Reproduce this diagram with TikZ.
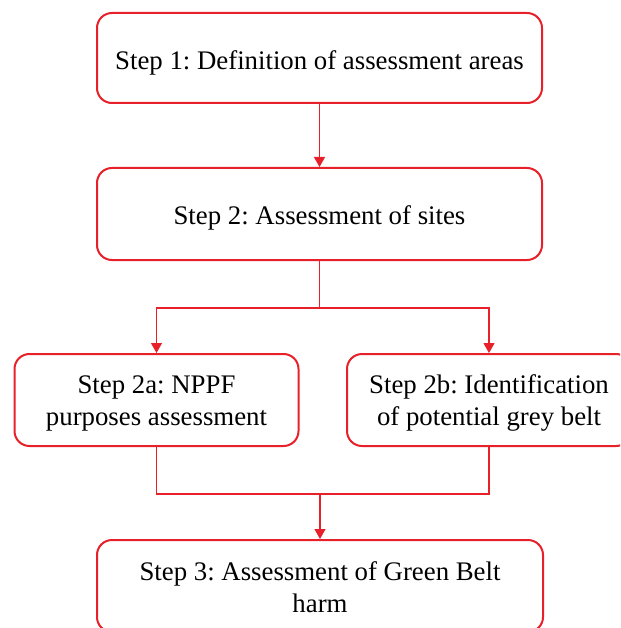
\documentclass[tikz,border=0pt]{standalone}
\usepackage{fontspec}
\setmainfont{Liberation Serif}
\usetikzlibrary{arrows.meta}
\definecolor{boxred}{HTML}{E8202A}
\newcommand\lowtext[2]{\raisebox{#1}[\height][\depth]{\begin{tabular}{@{}c@{}}#2\end{tabular}}}
\begin{document}
\begin{tikzpicture}[x=1pt,y=-1pt,
  stepbox/.style={draw=boxred, line width=2pt, rounded corners=15pt, fill=white,
    align=center, inner sep=0pt, text=black,
    font=\fontsize{26.8}{32}\selectfont\frenchspacing},
  link/.style={draw=boxred, line width=1.1pt},
  arr/.style={link, -{Triangle[length=10pt,width=11pt]}}]
\clip (0,0) rectangle (620,628);
\fill[white] (0,0) rectangle (620,628);
\node[stepbox, minimum width=445pt, minimum height=90pt] (b1) at (319.5,58) {\lowtext{-5pt}{Step 1: Definition of assessment areas}};
\node[stepbox, minimum width=445pt, minimum height=92pt] (b2) at (319.5,214) {\lowtext{-4pt}{Step 2: Assessment of sites}};
\node[stepbox, minimum width=284pt, minimum height=92pt] (b2a) at (156.5,400) {\lowtext{-3pt}{Step 2a: NPPF\\purposes assessment}};
\node[stepbox, minimum width=284pt, minimum height=92pt] (b2b) at (489,400) {\lowtext{-3pt}{Step 2b: Identification\\of potential grey belt}};
\node[stepbox, minimum width=446pt, minimum height=92pt] (b3) at (320,586) {\lowtext{-4.5pt}{Step 3: Assessment of Green Belt\\harm}};
\coordinate (j1) at (319.5,308);
\coordinate (j2) at (320,494);
\draw[arr] (b1) -- (b2);
\draw[link] (b2.south) -- (j1);
\draw[arr] (j1) -| (b2a.north);
\draw[arr] (j1) -| (b2b.north);
\draw[link] (b2a.south) |- (j2);
\draw[link] (b2b.south) |- (j2);
\draw[arr] (j2) -- (b3.north);
\end{tikzpicture}
\end{document}
